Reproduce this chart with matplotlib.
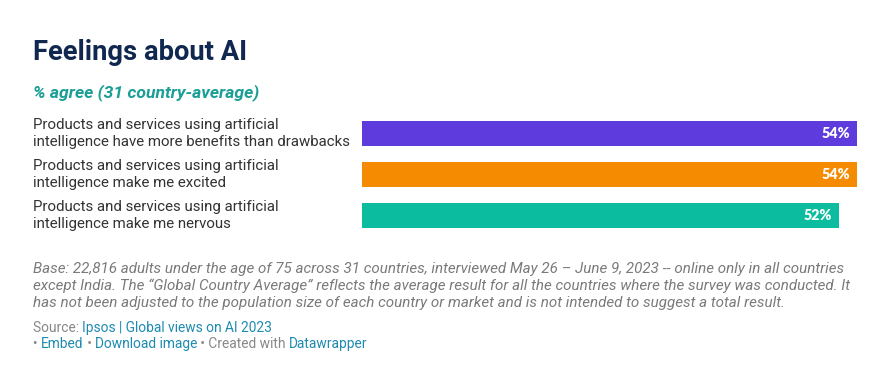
import numpy as np
import matplotlib.pyplot as plt

# data
labels = ["Products and services using artificial\nintelligence have more benefits than drawbacks",
          "Products and services using artificial\nintelligence make me excited",
          "Products and services using artificial\nintelligence make me nervous"]
values = [54, 54, 52]
colors = ['#5e3bdc', '#f58b00', '#0bbd9e']

title = "Feelings about AI"
subtitle = "% agree (31 country-average)"
note = ("Base: 22,816 adults under the age of 75 across 31 countries, interviewed May 26 \u2013 June 9, 2023 -- online only in all countries\n"
        "except India. The \u201cGlobal Country Average\u201d reflects the average result for all the countries where the survey was conducted. It\n"
        "has not been adjusted to the population size of each country or market and is not intended to suggest a total result.")
gray = '#888888'
link = '#1d8bb0'

W, H = 891, 385
fig = plt.figure(figsize=(W / 100, H / 100), dpi=100)
plt.rcParams['font.family'] = ['Roboto', 'DejaVu Sans']

def fx(px):
    return px / W

def fy(py):
    return 1 - py / H

# bars: x 362..857 for 54, rows centred at 133.5/174.5/215.5 px
ax = fig.add_axes([fx(362), fy(236), fx(857) - fx(362), (236 - 113) / H])
y = np.arange(len(values))
ax.barh(y, values, height=0.61, color=colors)
ax.set_xlim(0, 54)
ax.set_ylim(2.5, -0.5)
ax.axis('off')

for i, v in enumerate(values):
    ax.annotate(f"{v}%", xy=(v, i), xytext=(-5, 0), textcoords='offset points',
                ha='right', va='center', color='white', fontsize=10.3,
                fontweight='heavy', family=['Lato', 'DejaVu Sans'])
    ax.annotate(labels[i], xy=(fx(33), i), xycoords=('figure fraction', 'data'),
                ha='left', va='center', color='#333333', fontsize=10.85,
                linespacing=1.22)

fig.text(fx(33), fy(52), title, fontsize=19.7, fontweight='bold', color='#10284f',
         ha='left', va='center')
fig.text(fx(33), fy(93), subtitle, fontsize=12.6, fontweight='bold', style='italic',
         color='#1a9e96', ha='left', va='center')

fig.text(fx(33), fy(286), note, fontsize=10.9, style='italic', color='#7a7a7a',
         ha='left', va='center', linespacing=1.26)

# footer lines: pieces chained onto the previous text's bbox
def chained(parts, x, y_px, size):
    prev = fig.text(fx(x), fy(y_px), parts[0][0], fontsize=size, color=parts[0][1],
                    ha='left', va='baseline')
    for txt, col in parts[1:]:
        prev = fig.add_artist(plt.Annotation(txt, xy=(1, 0), xycoords=prev,
                                             ha='left', va='bottom', fontsize=size, color=col))
    return prev

chained([("Source: ", gray), ("Ipsos | Global views on AI 2023", link)], 33, 332, 9.9)
chained([("\u2022 ", gray), ("Embed", link), (" \u2022 ", gray), ("Download image", link),
         (" \u2022 Created with ", gray), ("Datawrapper", link)], 33, 348, 9.9)

fig.savefig('out.png', dpi=100, facecolor='white')
